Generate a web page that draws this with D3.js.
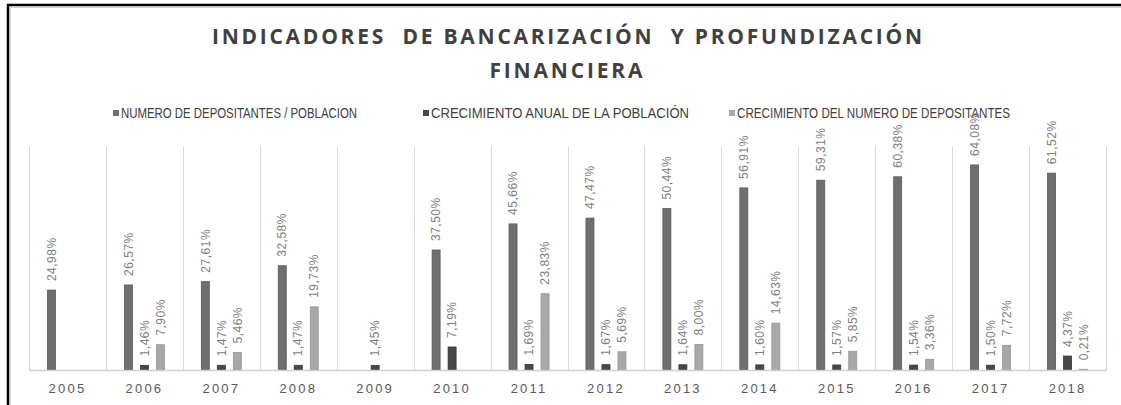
<!DOCTYPE html>
<html lang="es">
<head>
    <meta charset="UTF-8">
    <title>Indicadores de bancarización</title>
    <style>
        body { margin: 0; background: #fff; }
        svg text { white-space: pre; }
    </style>
    <script src="https://d3js.org/d3.v7.min.js"></script>
</head>
<body>
    <svg width="1121" height="405"></svg>
    <script>
        // data (percent values)
        const years = ["2005", "2006", "2007", "2008", "2009", "2010", "2011",
                       "2012", "2013", "2014", "2015", "2016", "2017", "2018"];
        const depositantesPoblacion = [24.98, 26.57, 27.61, 32.58, null, 37.50, 45.66,
                                       47.47, 50.44, 56.91, 59.31, 60.38, 64.08, 61.52];
        const crecimientoPoblacion = [null, 1.46, 1.47, 1.47, 1.45, 7.19, 1.69,
                                      1.67, 1.64, 1.60, 1.57, 1.54, 1.50, 4.37];
        const crecimientoDepositantes = [null, 7.90, 5.46, 19.73, null, null, 23.83,
                                         5.69, 8.00, 14.63, 5.85, 3.36, 7.72, 0.21];
        const seriesNames = ["NUMERO DE DEPOSITANTES / POBLACION",
                             "CRECIMIENTO ANUAL DE LA POBLACIÓN",
                             "CRECIMIENTO DEL NUMERO DE DEPOSITANTES"];
        const seriesColors = ["#6f6f6f", "#484848", "#a8a8a8"];
        const seriesStroke = ["#5a5a5a", "#363636", "#969696"];

        const svg = d3.select("svg");

        // frame
        svg.append("rect")
            .attr("x", 8).attr("y", 5)
            .attr("width", 1130).attr("height", 420)
            .attr("fill", "none")
            .attr("stroke", "#000")
            .attr("stroke-width", 2.5);
        svg.append("rect")
            .attr("x", 10.5).attr("y", 7.5)
            .attr("width", 1130).attr("height", 420)
            .attr("fill", "none")
            .attr("stroke", "#d6d6d6")
            .attr("stroke-width", 1);

        // title
        const title = svg.append("g")
            .attr("font-family", "'Open Sans', 'DejaVu Sans', sans-serif")
            .attr("font-weight", "bold")
            .attr("font-size", 21)
            .attr("fill", "#404040")
            .attr("text-anchor", "middle");
        title.append("text")
            .attr("x", 567).attr("y", 44)
            .attr("textLength", 710)
            .attr("lengthAdjust", "spacing")
            .text("INDICADORES  DE BANCARIZACIÓN  Y PROFUNDIZACIÓN");
        title.append("text")
            .attr("x", 566).attr("y", 78)
            .attr("textLength", 153)
            .attr("lengthAdjust", "spacing")
            .text("FINANCIERA");

        // legend
        const legendItems = [
            { x: 113, w: 236 },
            { x: 423, w: 258 },
            { x: 729, w: 273 }
        ];
        const legend = svg.append("g")
            .attr("font-family", "'Liberation Sans Narrow', 'Liberation Sans', sans-serif")
            .attr("font-size", 14)
            .attr("fill", "#404040");
        legendItems.forEach((item, i) => {
            legend.append("rect")
                .attr("x", item.x).attr("y", 110)
                .attr("width", 6).attr("height", 6)
                .attr("fill", seriesColors[i]);
            legend.append("text")
                .attr("x", item.x + 8).attr("y", 118)
                .attr("textLength", item.w)
                .attr("lengthAdjust", "spacingAndGlyphs")
                .text(seriesNames[i]);
        });

        // scales
        const x = d3.scaleBand()
            .domain(years)
            .range([29, 1106]);
        const inner = d3.scaleBand()
            .domain([0, 1, 2])
            .range([-24, 24])
            .paddingInner(0.5)
            .paddingOuter(0.25);
        const y = d3.scaleLinear()
            .domain([0, 70])
            .range([370, 146]);

        // vertical grid lines at category boundaries
        const bounds = years.map(d => x(d)).concat([x(years[years.length - 1]) + x.bandwidth()]);
        svg.append("g")
            .selectAll("line")
            .data(bounds)
            .join("line")
            .attr("x1", d => Math.round(d) + 0.5)
            .attr("x2", d => Math.round(d) + 0.5)
            .attr("y1", y(70))
            .attr("y2", y(0))
            .attr("stroke", "#d9d9d9")
            .attr("stroke-width", 1);

        // bars
        const allSeries = [depositantesPoblacion, crecimientoPoblacion, crecimientoDepositantes];
        const barData = [];
        allSeries.forEach((vals, s) => {
            vals.forEach((v, i) => {
                if (v !== null) barData.push({ year: years[i], s: s, v: v });
            });
        });
        const cx = d => x(d.year) + x.bandwidth() / 2 + inner(d.s);

        svg.append("g")
            .selectAll("rect")
            .data(barData)
            .join("rect")
            .attr("x", d => cx(d))
            .attr("y", d => y(d.v))
            .attr("width", inner.bandwidth())
            .attr("height", d => y(0) - y(d.v))
            .attr("fill", d => seriesColors[d.s])
            .attr("stroke", d => seriesStroke[d.s])
            .attr("stroke-width", 0.8);

        // data labels
        svg.append("g")
            .attr("font-family", "'Liberation Sans', sans-serif")
            .attr("font-size", 12)
            .attr("letter-spacing", 0.5)
            .attr("fill", "#7f7f7f")
            .selectAll("text")
            .data(barData)
            .join("text")
            .attr("transform", d => `translate(${cx(d) + inner.bandwidth() / 2},${y(d.v) - 9}) rotate(-90)`)
            .attr("dy", "0.35em")
            .text(d => d.v.toFixed(2).replace(".", ",") + "%");

        // x axis
        const xAxis = svg.append("g")
            .attr("transform", `translate(0,${y(0)})`)
            .call(d3.axisBottom(x).tickSize(0).tickPadding(14));
        xAxis.select(".domain").attr("stroke", "#d0d0d0").attr("stroke-width", 1.5);
        xAxis.selectAll("text")
            .attr("font-family", "'Liberation Sans', sans-serif")
            .attr("font-size", 13)
            .attr("letter-spacing", 2.2)
            .attr("fill", "#595959");
    </script>
</body>
</html>
